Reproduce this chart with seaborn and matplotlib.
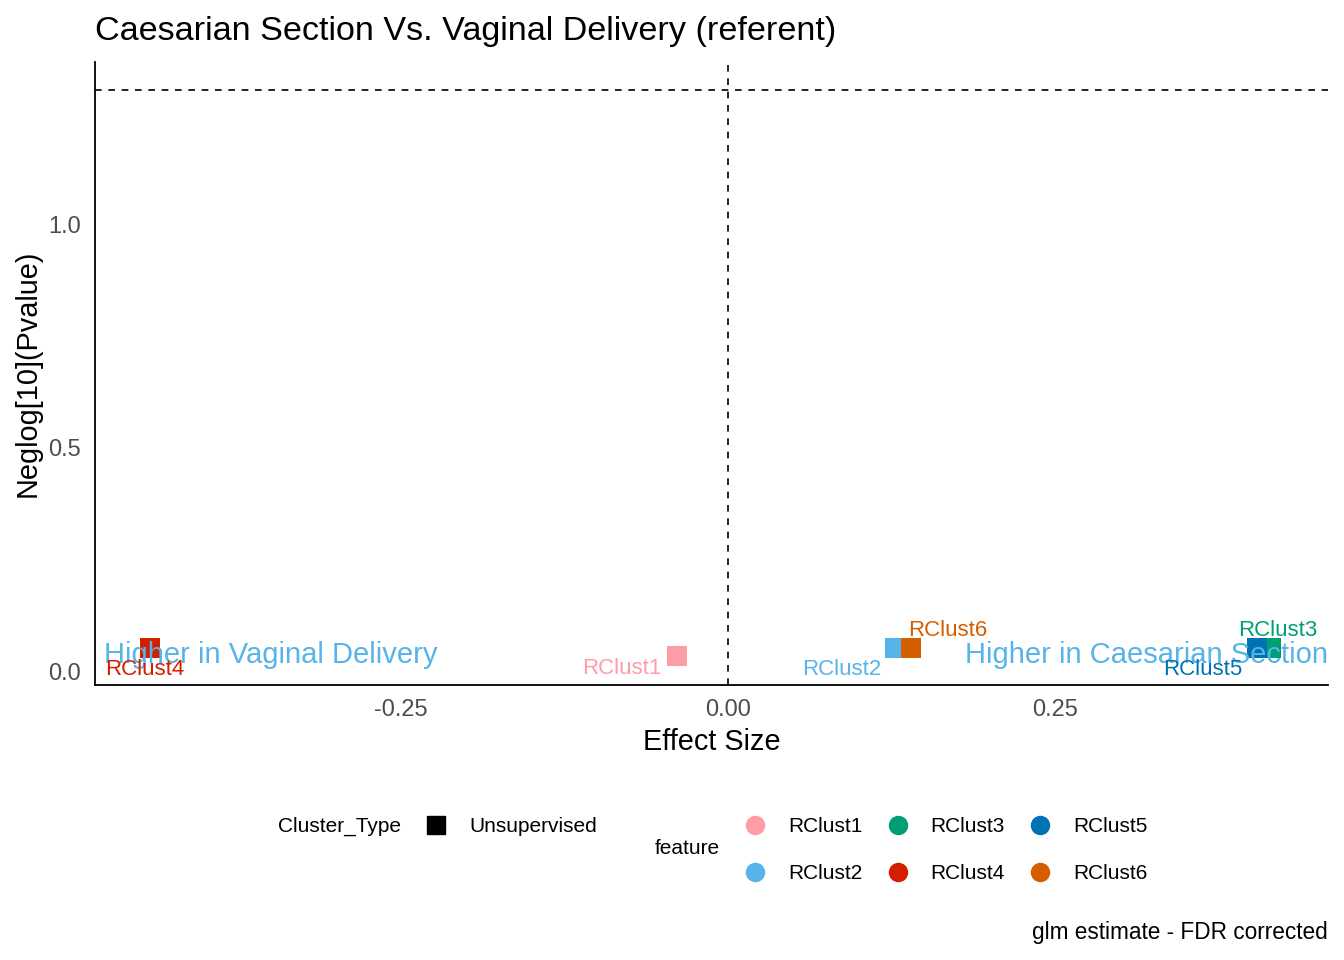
import matplotlib
matplotlib.use("Agg")
import matplotlib.pyplot as plt
from matplotlib.lines import Line2D
import pandas as pd
import seaborn as sns

# данные
features = ["RClust1", "RClust2", "RClust3", "RClust4", "RClust5", "RClust6"]
effect_size = [-0.039, 0.128, 0.416, -0.442, 0.405, 0.140]
neglog_p = [0.034, 0.051, 0.051, 0.051, 0.051, 0.051]
cluster_type = ["Unsupervised"] * 6
colors = ["#FF9DA7", "#56B4E9", "#009E73", "#D41E00", "#0072B2", "#D55E00"]

df = pd.DataFrame({"feature": features, "effect": effect_size,
                   "neglog": neglog_p, "Cluster_Type": cluster_type})
palette = dict(zip(features, colors))

sns.set_style("white")
plt.rcParams["font.family"] = ["Liberation Sans", "DejaVu Sans"]
plt.rcParams["text.color"] = "black"
plt.rcParams["axes.labelcolor"] = "black"

fig = plt.figure(figsize=(13.44, 9.6), dpi=100)
ax = fig.add_axes([0.0707, 0.2865, 0.9173, 0.6485])

sns.scatterplot(data=df, x="effect", y="neglog", hue="feature", palette=palette,
                marker="s", s=200, linewidth=0, legend=False, ax=ax, zorder=3)

# пороговые линии
ax.axhline(1.30103, color="black", linestyle=(0, (4, 4)), linewidth=1.2)
ax.axvline(0, color="black", linestyle=(0, (4, 4)), linewidth=1.2)

ax.text(0.007, 0.048, "Higher in Vaginal Delivery", transform=ax.transAxes,
        ha="left", va="center", color="#56B4E9", fontsize=21, zorder=5)
ax.text(1.0, 0.048, "Higher in Caesarian Section", transform=ax.transAxes,
        ha="right", va="center", color="#56B4E9", fontsize=21, zorder=5)

# подписи точек (сдвиги как у ggrepel, в пикселях)
offsets = {"RClust1": (-55, -13), "RClust2": (-53, -21), "RClust3": (6, 18),
           "RClust4": (-5, -21), "RClust5": (-55, -21), "RClust6": (37, 18)}
for f, x, y, c in zip(features, effect_size, neglog_p, colors):
    ax.annotate(f, (x, y), xytext=offsets[f], textcoords="offset pixels",
                ha="center", va="center", color=c, fontsize=16, zorder=6)

ax.set_xlim(-0.484, 0.459)
ax.set_ylim(-0.031, 1.362)
ax.set_xticks([-0.25, 0, 0.25])
ax.set_xticklabels(["-0.25", "0.00", "0.25"])
ax.set_yticks([0, 0.5, 1.0])
ax.set_yticklabels(["0.0", "0.5", "1.0"])
ax.tick_params(axis="both", direction="out", length=6, width=1.2, pad=4,
               labelsize=17, labelcolor="#4D4D4D", color="#333333")
sns.despine(ax=ax)
for s in ["left", "bottom"]:
    ax.spines[s].set_linewidth(1.3)
    ax.spines[s].set_color("black")

ax.set_xlabel("Effect Size", fontsize=20.8, labelpad=5)
ax.set_ylabel("Neglog[10](Pvalue)", fontsize=20.8, labelpad=5)
ax.set_title("Caesarian Section Vs. Vaginal Delivery (referent)", fontsize=24.6,
             loc="left", pad=16)

# легенды
fig.text(278 / 1344, 1 - 826 / 960, "Cluster_Type", fontsize=15, va="center")
h1 = [Line2D([], [], marker="s", color="black", linestyle="", markersize=13)]
fig.legend(h1, ["Unsupervised"], loc="center left", frameon=False,
           bbox_to_anchor=(425.6 / 1344, 1 - 827 / 960), fontsize=15,
           handlelength=1, handletextpad=1.09, borderpad=0, borderaxespad=0)

fig.text(655 / 1344, 1 - 849 / 960, "feature", fontsize=15, va="center")
h2 = [Line2D([], [], marker="o", color=c, linestyle="", markersize=13) for c in colors]
fig.legend(h2, features, loc="center left", frameon=False, ncol=3,
           bbox_to_anchor=(744.6 / 1344, 1 - 850 / 960), fontsize=15,
           handlelength=1, handletextpad=1.09, columnspacing=1.18,
           labelspacing=1.34, borderpad=0, borderaxespad=0)

fig.text(1328 / 1344, 1 - 933 / 960, "glm estimate - FDR corrected",
         fontsize=16.3, ha="right", va="center")

fig.savefig("out.png", dpi=100)
